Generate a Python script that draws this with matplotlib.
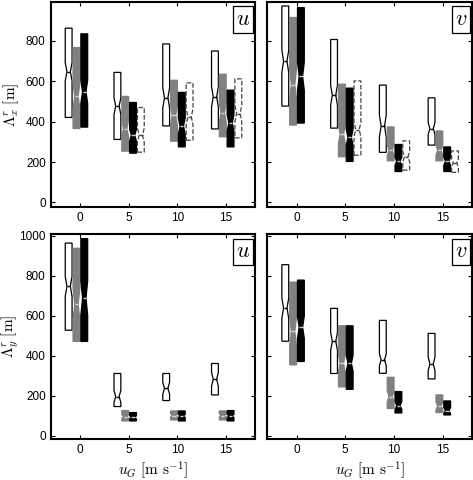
import numpy as np
import matplotlib
matplotlib.use('Agg')
import matplotlib.pyplot as plt

plt.rcParams['font.family'] = ['Liberation Sans', 'DejaVu Sans']
plt.rcParams['mathtext.fontset'] = 'cm'

# wind speed groups
ug = [0, 5, 10, 15]

# each entry: (q1, median, q3, notch half-width); None = no box
# Lambda_x, u component
lxu_white = [(421, 647, 863, 45), (312, 477, 644, 42), (379, 518, 785, 50), (364, 523, 750, 50)]
lxu_gray = [(366, 526, 767, 65), (254, 366, 525, 42), (303, 432, 605, 50), (325, 444, 635, 45)]
lxu_black = [(373, 548, 835, 58), (244, 333, 495, 30), (275, 378, 545, 40), (275, 394, 556, 40)]
lxu_dash = [None, (249, 333, 470, 35), (308, 424, 592, 40), (320, 440, 612, 40)]

# Lambda_x, v component
lxv_white = [(477, 699, 973, 55), (368, 531, 807, 50), (248, 378, 581, 55), (284, 366, 518, 30)]
lxv_gray = [(383, 584, 916, 75), (226, 337, 586, 45), (206, 259, 374, 30), (206, 259, 354, 25)]
lxv_black = [(393, 625, 965, 70), (203, 322, 566, 40), (153, 204, 287, 20), (153, 204, 275, 20)]
lxv_dash = [None, (234, 361, 602, 35), (160, 226, 305, 25), (149, 196, 255, 20)]

# Lambda_y, u component
lyu_white = [(528, 747, 963, 50), (147, 197, 312, 30), (177, 238, 312, 30), (205, 283, 362, 35)]
lyu_gray = [(472, 658, 937, 80), (75, 97, 127, 10), (80, 102, 125, 8), (80, 102, 125, 8)]
lyu_black = [(472, 688, 985, 85), (75, 93, 117, 8), (75, 100, 125, 8), (75, 100, 127, 8)]

# Lambda_y, v component
lyv_white = [(473, 638, 855, 50), (312, 472, 637, 45), (313, 380, 577, 30), (285, 360, 512, 35)]
lyv_gray = [(355, 522, 768, 70), (245, 363, 550, 45), (137, 197, 293, 30), (117, 150, 205, 20)]
lyv_black = [(372, 543, 778, 55), (233, 363, 550, 40), (115, 152, 222, 20), (105, 127, 175, 15)]

offsets = [-1.15, -0.35, 0.45, 1.25]
styles = [
    dict(face='white', edge='black', med='black', ls='-'),
    dict(face='#808080', edge='#808080', med='#d8d8d8', ls='-'),
    dict(face='black', edge='black', med='#d0d0d0', ls='-'),
    dict(face='white', edge='#444444', med='#444444', ls='--'),
]


def draw_series(ax, boxes, off, st):
    stats = []
    pos = []
    for x, b in zip(ug, boxes):
        if b is None:
            continue
        q1, med, q3, n = b
        stats.append(dict(med=med, q1=q1, q3=q3, cilo=med - n, cihi=med + n,
                          whislo=q1, whishi=q3, fliers=[]))
        pos.append(x + off)
    ax.bxp(stats, positions=pos, widths=0.7, shownotches=True, patch_artist=True,
           showcaps=False, showfliers=False, manage_ticks=False,
           boxprops=dict(facecolor=st['face'], edgecolor=st['edge'],
                         linewidth=0.9, linestyle=st['ls']),
           medianprops=dict(color=st['med'], linewidth=1.0),
           whiskerprops=dict(linewidth=0))


def panel(ax, series, label, ylim, yticks):
    for boxes, off, st in zip(series, offsets, styles):
        draw_series(ax, boxes, off, st)
    ax.set_xlim(-3, 18)
    ax.set_ylim(*ylim)
    ax.set_xticks(ug)
    ax.set_yticks(yticks)
    ax.tick_params(direction='in', top=True, right=True, length=3, labelsize=8.5)
    for s in ax.spines.values():
        s.set_linewidth(1.5)
    ax.text(0.975, 0.965, label, transform=ax.transAxes, ha='right', va='top',
            fontsize=16, bbox=dict(boxstyle='square,pad=0.12', fc='white', ec='black', lw=0.9))


fig = plt.figure(figsize=(4.73, 4.8), dpi=100)
ax1 = fig.add_axes([0.107, 0.569, 0.433, 0.427])
ax2 = fig.add_axes([0.565, 0.569, 0.433, 0.427])
ax3 = fig.add_axes([0.107, 0.085, 0.433, 0.427])
ax4 = fig.add_axes([0.565, 0.085, 0.433, 0.427])

panel(ax1, [lxu_white, lxu_gray, lxu_black, lxu_dash], r'$u$', (-22, 993), range(0, 801, 200))
panel(ax2, [lxv_white, lxv_gray, lxv_black, lxv_dash], r'$v$', (-22, 993), range(0, 801, 200))
panel(ax3, [lyu_white, lyu_gray, lyu_black], r'$u$', (-16, 1007), range(0, 1001, 200))
panel(ax4, [lyv_white, lyv_gray, lyv_black], r'$v$', (-16, 1007), range(0, 1001, 200))

ax2.set_yticklabels([])
ax4.set_yticklabels([])
ax1.set_ylabel(r'$\Lambda_x^r\ [\mathrm{m}]$', fontsize=11)
ax3.set_ylabel(r'$\Lambda_y^r\ [\mathrm{m}]$', fontsize=11)
ax3.set_xlabel(r'$u_G\ [\mathrm{m\ s^{-1}}]$', fontsize=11)
ax4.set_xlabel(r'$u_G\ [\mathrm{m\ s^{-1}}]$', fontsize=11)
for ax in (ax1, ax3):
    ax.yaxis.set_label_coords(-0.145, 0.5)
for ax in (ax3, ax4):
    ax.xaxis.set_label_coords(0.5, -0.095)

fig.savefig('out.png', dpi=100)
